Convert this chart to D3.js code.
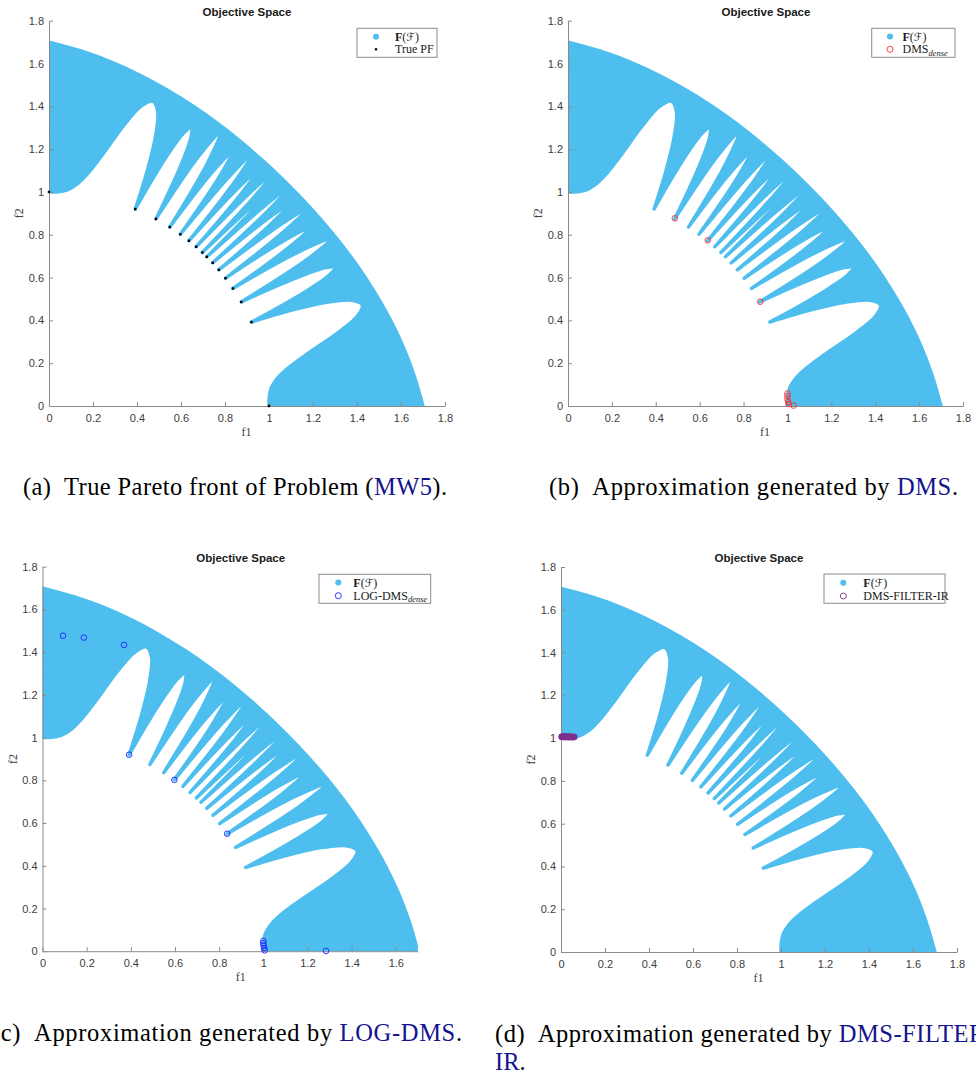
<!DOCTYPE html>
<html>
<head>
<meta charset="utf-8">
<script src="https://cdn.jsdelivr.net/npm/d3@7"></script>
<style>
  body { margin: 0; background: #ffffff; }
  svg { display: block; }
</style>
</head>
<body>
<svg id="fig" width="976" height="1075"></svg>
<script>
// ---------- MW5 objective space: boundary of F(feasible set), polar (angle in degrees, radius) ----------
const outerAngle  = [0, 5, 10, 15, 20, 25, 30, 35, 40, 45, 50, 55, 60, 65, 70, 75, 80, 85, 90];
const outerRadius = [1.700, 1.665, 1.632, 1.600, 1.571, 1.547, 1.527, 1.512, 1.503, 1.500,
                     1.503, 1.512, 1.527, 1.547, 1.571, 1.600, 1.632, 1.665, 1.700];

// infeasible lobes cut into the band, each running from one Pareto tip to the next
const lobes = [
  [[0, 1.000], [2.5, 1.002], [4.58, 1.012], [5.77, 1.025], [7.27, 1.049], [9.16, 1.098], [11.54, 1.191],
   [14.55, 1.354], [16.65, 1.462], [18.33, 1.500], [19.74, 1.462], [20.98, 1.354], [22.08, 1.191], [23.09, 1.000]],
  [[23.09, 1.000], [24.01, 1.172], [24.87, 1.318], [25.68, 1.416], [26.43, 1.450], [27.15, 1.416],
   [27.83, 1.318], [28.47, 1.172], [29.09, 1.000]],
  [[29.09, 1.000], [30.26, 1.354], [31.34, 1.500], [32.35, 1.354], [33.30, 1.000]],
  [[33.30, 1.000], [34.20, 1.318], [35.06, 1.450], [35.87, 1.318], [36.65, 1.000]],
  [[36.65, 1.000], [37.40, 1.354], [38.12, 1.500], [38.82, 1.354], [39.49, 1.000]],
  [[39.49, 1.000], [40.13, 1.318], [40.76, 1.450], [41.37, 1.318], [41.96, 1.000]],
  [[41.96, 1.000], [42.53, 1.354], [43.09, 1.500], [43.64, 1.354], [44.17, 1.000]],
  [[44.17, 1.000], [44.69, 1.318], [45.00, 1.428], [45.31, 1.318], [45.83, 1.000]],
  [[45.83, 1.000], [46.36, 1.354], [46.91, 1.500], [47.47, 1.354], [48.04, 1.000]],
  [[48.04, 1.000], [48.63, 1.318], [49.24, 1.450], [49.87, 1.318], [50.51, 1.000]],
  [[50.51, 1.000], [51.18, 1.354], [51.88, 1.500], [52.60, 1.354], [53.35, 1.000]],
  [[53.35, 1.000], [54.13, 1.318], [54.94, 1.450], [55.80, 1.318], [56.70, 1.000]],
  [[56.70, 1.000], [57.65, 1.354], [58.66, 1.500], [59.74, 1.354], [60.91, 1.000]],
  [[60.91, 1.000], [61.53, 1.172], [62.17, 1.318], [62.85, 1.416], [63.57, 1.450], [64.32, 1.416],
   [65.13, 1.318], [65.99, 1.172], [66.91, 1.000]],
  [[66.91, 1.000], [67.92, 1.191], [69.02, 1.354], [70.26, 1.462], [71.67, 1.500], [73.35, 1.462],
   [75.45, 1.354], [78.46, 1.191], [80.84, 1.098], [82.73, 1.049], [84.23, 1.025], [85.42, 1.012],
   [87.5, 1.002], [90, 1.000]]
];

// true Pareto front (f1, f2)
const pfF1 = [0.000, 0.392, 0.486, 0.549, 0.597, 0.636, 0.669, 0.697, 0.717, 0.744, 0.772, 0.802, 0.836, 0.874, 0.920, 1.000];
const pfF2 = [1.000, 0.920, 0.874, 0.836, 0.802, 0.772, 0.744, 0.717, 0.697, 0.669, 0.636, 0.597, 0.549, 0.486, 0.392, 0.000];

// solver approximations (f1, f2)
const dmsF1 = [0.487, 0.637, 0.876, 1.000, 1.000, 1.000, 1.003, 1.006, 1.028];
const dmsF2 = [0.877, 0.774, 0.487, 0.059, 0.047, 0.031, 0.019, 0.009, 0.002];

const logF1 = [0.093, 0.187, 0.369, 0.392, 0.597, 0.836, 1.000, 1.000, 1.001, 1.003, 1.006, 1.284];
const logF2 = [1.477, 1.468, 1.434, 0.920, 0.802, 0.550, 0.048, 0.037, 0.026, 0.014, 0.004, 0.001];

const filterF1 = [0.003, 0.005, 0.008, 0.011, 0.013, 0.016, 0.019, 0.021, 0.024, 0.027, 0.030, 0.033,
                  0.035, 0.038, 0.041, 0.043, 0.046, 0.049, 0.052, 0.054, 0.057, 0.060];
const filterF2 = [1.006, 1.006, 1.006, 1.006, 1.006, 1.006, 1.005, 1.006, 1.006, 1.005, 1.006, 1.005,
                  1.006, 1.005, 1.005, 1.006, 1.005, 1.005, 1.005, 1.005, 1.005, 1.005];

// axis ticks
const tickValues = [0, 0.2, 0.4, 0.6, 0.8, 1, 1.2, 1.4, 1.6, 1.8];
const tickLabels = ["0", "0.2", "0.4", "0.6", "0.8", "1", "1.2", "1.4", "1.6", "1.8"];

// text
const titleText = "Objective Space";
const legendMain = ["F", "(", "\u2131", ")"];
const captions = [
  [["(a)\u2002True Pareto front of Problem (", "#000"], ["MW5", "#14148c"], [").", "#000"]],
  [["(b)\u2002Approximation generated by ", "#000"], ["DMS", "#14148c"], [".", "#000"]],
  [["(c)\u2002Approximation generated by ", "#000"], ["LOG-DMS", "#14148c"], [".", "#000"]],
  [["(d)\u2002Approximation generated by ", "#000"], ["DMS-FILTER-", "#14148c"]]
];
const captionTail = [["IR", "#14148c"], [".", "#000"]];

// ---------- styles ----------
const blue = "#4dbeee";
const axisGray = "#8a8a8a";
const labelGray = "#404040";
const serif = "'Liberation Serif', 'Times New Roman', serif";
const sans = "'Liberation Sans', Arial, sans-serif";

const svg = d3.select("#fig");
const rad = Math.PI / 180;
const polar = ([a, r]) => [r * Math.cos(a * rad), r * Math.sin(a * rad)];

// panel layout
const panels = [
  { x0: 49,   x1: 445,   xmax: 1.8, y0: 406,   y1: 20.7,  titleX: 247,   titleY: 16,
    legend: { x: 357, y: 28.3, w: 80, h: 29, mx: 376, tx: 395, r1: 36.7, r2: 49.3 },
    caption: { x: 23, y: 495, len: 424 } },
  { x0: 568,  x1: 963,   xmax: 1.8, y0: 406,   y1: 20.7,  titleX: 766,   titleY: 16,
    legend: { x: 871.7, y: 28.3, w: 83.3, h: 29, mx: 890, tx: 902.5, r1: 36.5, r2: 49.3 },
    caption: { x: 549, y: 495, len: 409 } },
  { x0: 42.5, x1: 417.9, xmax: 1.7, y0: 951.2, y1: 566.7, titleX: 240.7, titleY: 562,
    legend: { x: 319, y: 574.3, w: 111.7, h: 29, mx: 338.3, tx: 353.3, r1: 582.5, r2: 595.7 },
    caption: { x: -8, y: 1040.5, len: 470 } },
  { x0: 561,  x1: 957,   xmax: 1.8, y0: 952,   y1: 567,   titleX: 759,   titleY: 562,
    legend: { x: 824, y: 574, w: 121, h: 29.3, mx: 843.3, tx: 863.3, r1: 582.7, r2: 596 },
    caption: { x: 495, y: 1041.5, len: 499 } }
];

// F(feasible set): outer arc, down the f2 axis, then back along the lobed inner edge
function drawRegion(g, x, y) {
  const line = d3.line().x(d => x(d[0])).y(d => y(d[1])).curve(d3.curveCatmullRom.alpha(0.5));
  const outerPts = outerAngle.map((a, i) => polar([a, outerRadius[i]]));
  let d = line(outerPts);
  for (let i = lobes.length - 1; i >= 0; i--) {
    const seg = line(lobes[i].slice().reverse().map(polar));
    d += "L" + seg.slice(1);
  }
  d += "Z";
  // filled markers of the sampled set spread a little past the exact boundary
  g.append("path").attr("d", d).attr("fill", blue)
    .attr("stroke", blue).attr("stroke-width", 3.4).attr("stroke-linejoin", "round");
}

function drawAxes(g, p, x, y) {
  const xt = tickValues.filter(v => v <= p.xmax + 1e-9);
  const xAxis = d3.axisBottom(x).tickValues(xt)
    .tickFormat(d => tickLabels[tickValues.indexOf(d)])
    .tickSizeInner(-4).tickSizeOuter(0).tickPadding(8);
  const yAxis = d3.axisLeft(y).tickValues(tickValues)
    .tickFormat(d => tickLabels[tickValues.indexOf(d)])
    .tickSizeInner(-4).tickSizeOuter(0).tickPadding(5);
  const gx = g.append("g").attr("transform", `translate(0,${p.y0})`).call(xAxis);
  const gy = g.append("g").attr("transform", `translate(${p.x0},0)`).call(yAxis);
  [gx, gy].forEach(a => {
    a.select(".domain").attr("stroke", axisGray);
    a.selectAll(".tick line").attr("stroke", axisGray);
    a.selectAll(".tick text").attr("fill", labelGray).attr("font-family", sans).attr("font-size", 11);
  });
  g.append("text").attr("x", (p.x0 + p.x0 + 1.8 * (p.x1 - p.x0) / p.xmax) / 2 - 0.5)
    .attr("y", p.y0 + 30).attr("text-anchor", "middle")
    .attr("font-family", serif).attr("font-size", 12).attr("fill", labelGray).text("f1");
  g.append("text")
    .attr("transform", `translate(${p.x0 - 26},${(p.y0 + p.y1) / 2}) rotate(-90)`)
    .attr("text-anchor", "middle")
    .attr("font-family", serif).attr("font-size", 12).attr("fill", labelGray).text("f2");
  g.append("text").attr("x", p.titleX).attr("y", p.titleY).attr("text-anchor", "middle")
    .attr("font-family", sans).attr("font-weight", "bold").attr("font-size", 11.5)
    .attr("fill", "#1a1a1a").text(titleText);
}

function drawLegend(g, L, kind) {
  g.append("rect").attr("x", L.x).attr("y", L.y).attr("width", L.w).attr("height", L.h)
    .attr("fill", "#fff").attr("stroke", "#8c8c8c").attr("stroke-width", 1);
  g.append("circle").attr("cx", L.mx).attr("cy", L.r1).attr("r", 3).attr("fill", blue);
  const t = g.append("text").attr("x", L.tx).attr("y", L.r1 + 4)
    .attr("font-family", serif).attr("font-size", 12).attr("fill", "#1a1a1a");
  t.append("tspan").attr("font-weight", "bold").text(legendMain[0]);
  t.append("tspan").text(legendMain[1]);
  t.append("tspan").attr("font-family", "'DejaVu Sans', sans-serif").attr("font-size", 11).text(legendMain[2]);
  t.append("tspan").text(legendMain[3]);

  const t2 = g.append("text").attr("x", L.tx).attr("y", L.r2 + 4)
    .attr("font-family", serif).attr("font-size", 12).attr("fill", "#1a1a1a");
  if (kind.name === "pf") {
    g.append("circle").attr("cx", L.mx).attr("cy", L.r2).attr("r", 1.2).attr("fill", "#000");
    t2.text("True PF");
  } else {
    g.append("circle").attr("cx", L.mx).attr("cy", L.r2).attr("r", 3)
      .attr("fill", "none").attr("stroke", kind.color).attr("stroke-width", 0.9);
    t2.append("tspan").text(kind.label);
    if (kind.sub) {
      t2.append("tspan").attr("font-size", 8.5).attr("font-style", "italic").attr("dy", 2.5).text(kind.sub);
    }
  }
}

function drawCaption(p, parts) {
  const t = svg.append("text").attr("x", p.caption.x).attr("y", p.caption.y)
    .attr("font-family", serif).attr("font-size", 24.5)
    .attr("textLength", p.caption.len).attr("lengthAdjust", "spacing");
  parts.forEach(([s, c]) => t.append("tspan").attr("fill", c).text(s));
}

const kinds = [
  { name: "pf" },
  { name: "dms", color: "#ff2d2d", label: "DMS", sub: "dense", f1: dmsF1, f2: dmsF2 },
  { name: "log", color: "#1f1fff", label: "LOG-DMS", sub: "dense", f1: logF1, f2: logF2 },
  { name: "filter", color: "#7e2f8e", label: "DMS-FILTER-IR", f1: filterF1, f2: filterF2 }
];

panels.forEach((p, idx) => {
  const x = d3.scaleLinear().domain([0, p.xmax]).range([p.x0, p.x1]);
  const y = d3.scaleLinear().domain([0, 1.8]).range([p.y0, p.y1]);
  const clipId = "plotclip" + idx;
  svg.append("clipPath").attr("id", clipId).append("rect")
    .attr("x", p.x0).attr("y", p.y1).attr("width", p.x1 - p.x0).attr("height", p.y0 - p.y1);

  const g = svg.append("g");
  drawRegion(g.append("g").attr("clip-path", `url(#${clipId})`), x, y);
  drawAxes(g, p, x, y);

  const k = kinds[idx];
  if (k.name === "pf") {
    g.append("g").selectAll("rect").data(pfF1).join("rect")
      .attr("x", (d, i) => x(d) - 1.2).attr("y", (d, i) => y(pfF2[i]) - 1.2)
      .attr("width", 2.4).attr("height", 2.4).attr("fill", "#000");
  } else {
    g.append("g").selectAll("circle").data(k.f1).join("circle")
      .attr("cx", d => x(d)).attr("cy", (d, i) => y(k.f2[i])).attr("r", k.name === "filter" ? 2.6 : 2.8)
      .attr("fill", "none").attr("stroke", k.color).attr("stroke-width", k.name === "filter" ? 1.4 : 0.9);
  }
  drawLegend(g, p.legend, k);
  drawCaption(p, captions[idx]);
});

// wrapped second line of caption (d)
const tail = svg.append("text").attr("x", 495).attr("y", 1070)
  .attr("font-family", serif).attr("font-size", 24.5);
captionTail.forEach(([s, c]) => tail.append("tspan").attr("fill", c).text(s));
</script>
</body>
</html>
